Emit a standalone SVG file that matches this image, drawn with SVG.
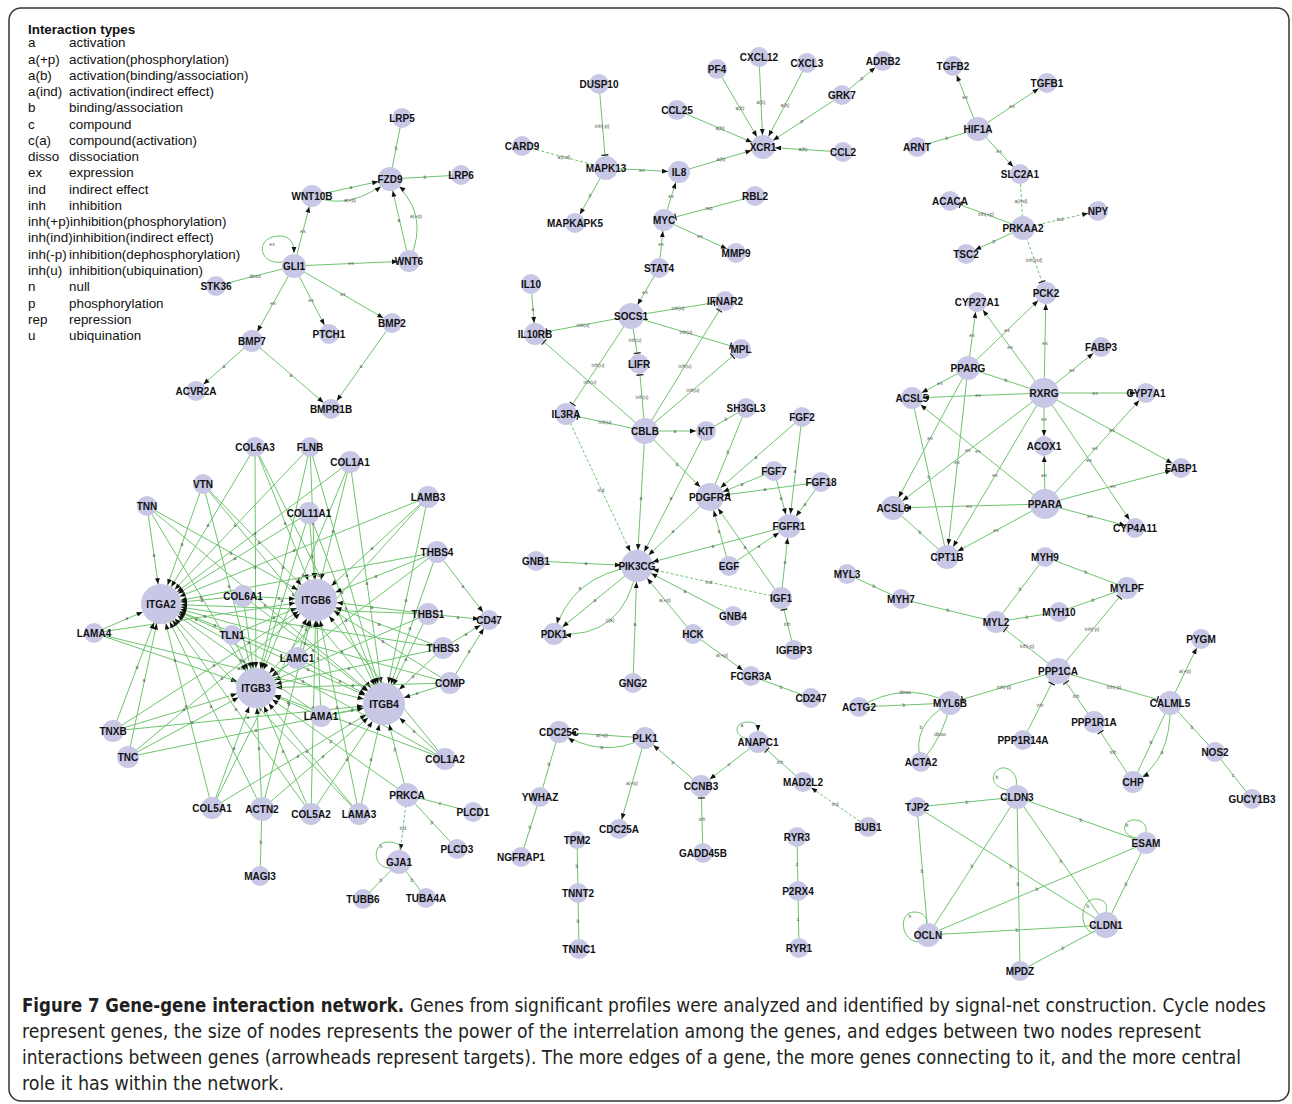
<svg xmlns="http://www.w3.org/2000/svg" width="1292" height="1104" viewBox="0 0 1292 1104">
<style>
.frame{fill:#fff;stroke:#333;stroke-width:1.5}
.lg{font-family:"Liberation Sans",Arial,sans-serif;font-size:13.4px;fill:#111}
.lgt{font-family:"Liberation Sans",Arial,sans-serif;font-size:13.4px;font-weight:bold;fill:#111}
#connectors line,#connectors path{stroke:#6fc46f;stroke-width:1;fill:none}
#connectors .d{stroke-dasharray:3 2}
.el{font-family:"Liberation Sans",Arial,sans-serif;font-size:5px;fill:#555;text-anchor:middle}
.n circle{fill:#c8c8e6}
.n text{font-family:"Liberation Sans",Arial,sans-serif;font-size:10px;font-weight:bold;fill:#111;text-anchor:middle}
.ah path{fill:#111;stroke:none}
.bh path{stroke:#222;stroke-width:1.3;fill:none}
.cap{font-family:"Liberation Sans Narrow","DejaVu Sans Condensed","Liberation Sans",sans-serif;font-size:19px;fill:#231f20}
.capb{font-family:"Liberation Sans Narrow","DejaVu Sans Condensed","Liberation Sans",sans-serif;font-size:19px;font-weight:bold;fill:#231f20}
</style>
<defs>
<marker id="t0" class="ah" markerUnits="userSpaceOnUse" orient="auto" refX="0" refY="0" markerWidth="8" markerHeight="8" style="overflow:visible"><path d="M0,0L-6,-2.4L-6,2.4Z"/></marker>
<marker id="t10" class="ah" markerUnits="userSpaceOnUse" orient="auto" refX="10" refY="0" markerWidth="8" markerHeight="8" style="overflow:visible"><path d="M0,0L-6,-2.4L-6,2.4Z"/></marker>
<marker id="t11" class="ah" markerUnits="userSpaceOnUse" orient="auto" refX="11" refY="0" markerWidth="8" markerHeight="8" style="overflow:visible"><path d="M0,0L-6,-2.4L-6,2.4Z"/></marker>
<marker id="t12" class="ah" markerUnits="userSpaceOnUse" orient="auto" refX="12" refY="0" markerWidth="8" markerHeight="8" style="overflow:visible"><path d="M0,0L-6,-2.4L-6,2.4Z"/></marker>
<marker id="t13" class="ah" markerUnits="userSpaceOnUse" orient="auto" refX="13" refY="0" markerWidth="8" markerHeight="8" style="overflow:visible"><path d="M0,0L-6,-2.4L-6,2.4Z"/></marker>
<marker id="t14" class="ah" markerUnits="userSpaceOnUse" orient="auto" refX="14" refY="0" markerWidth="8" markerHeight="8" style="overflow:visible"><path d="M0,0L-6,-2.4L-6,2.4Z"/></marker>
<marker id="t16" class="ah" markerUnits="userSpaceOnUse" orient="auto" refX="16" refY="0" markerWidth="8" markerHeight="8" style="overflow:visible"><path d="M0,0L-6,-2.4L-6,2.4Z"/></marker>
<marker id="t20" class="ah" markerUnits="userSpaceOnUse" orient="auto" refX="20" refY="0" markerWidth="8" markerHeight="8" style="overflow:visible"><path d="M0,0L-6,-2.4L-6,2.4Z"/></marker>
<marker id="t21" class="ah" markerUnits="userSpaceOnUse" orient="auto" refX="21" refY="0" markerWidth="8" markerHeight="8" style="overflow:visible"><path d="M0,0L-6,-2.4L-6,2.4Z"/></marker>
<marker id="b10" class="bh" markerUnits="userSpaceOnUse" orient="auto" refX="11" refY="0" markerWidth="8" markerHeight="8" style="overflow:visible"><path d="M0,-3.5V3.5"/></marker>
<marker id="b11" class="bh" markerUnits="userSpaceOnUse" orient="auto" refX="12" refY="0" markerWidth="8" markerHeight="8" style="overflow:visible"><path d="M0,-3.5V3.5"/></marker>
<marker id="b12" class="bh" markerUnits="userSpaceOnUse" orient="auto" refX="13" refY="0" markerWidth="8" markerHeight="8" style="overflow:visible"><path d="M0,-3.5V3.5"/></marker>
<marker id="b13" class="bh" markerUnits="userSpaceOnUse" orient="auto" refX="14" refY="0" markerWidth="8" markerHeight="8" style="overflow:visible"><path d="M0,-3.5V3.5"/></marker>
</defs>
<rect class="frame" x="9" y="8" width="1280" height="1093" rx="12"/>
<g id="legend">
<text class="lgt" x="28" y="34">Interaction types</text>
<text class="lg" x="28" y="47.3">a</text><text class="lg" x="69" y="47.3">activation</text>
<text class="lg" x="28" y="63.6">a(+p)</text><text class="lg" x="69" y="63.6">activation(phosphorylation)</text>
<text class="lg" x="28" y="79.8">a(b)</text><text class="lg" x="69" y="79.8">activation(binding/association)</text>
<text class="lg" x="28" y="96.1">a(ind)</text><text class="lg" x="69" y="96.1">activation(indirect effect)</text>
<text class="lg" x="28" y="112.3">b</text><text class="lg" x="69" y="112.3">binding/association</text>
<text class="lg" x="28" y="128.6">c</text><text class="lg" x="69" y="128.6">compound</text>
<text class="lg" x="28" y="144.9">c(a)</text><text class="lg" x="69" y="144.9">compound(activation)</text>
<text class="lg" x="28" y="161.1">disso</text><text class="lg" x="69" y="161.1">dissociation</text>
<text class="lg" x="28" y="177.4">ex</text><text class="lg" x="69" y="177.4">expression</text>
<text class="lg" x="28" y="193.6">ind</text><text class="lg" x="69" y="193.6">indirect effect</text>
<text class="lg" x="28" y="209.9">inh</text><text class="lg" x="69" y="209.9">inhibition</text>
<text class="lg" x="28" y="226.2">inh(+p)inhibition(phosphorylation)</text>
<text class="lg" x="28" y="242.4">inh(ind)inhibition(indirect effect)</text>
<text class="lg" x="28" y="258.7">inh(-p)</text><text class="lg" x="69" y="258.7">inhibition(dephosphorylation)</text>
<text class="lg" x="28" y="274.9">inh(u)</text><text class="lg" x="69" y="274.9">inhibition(ubiquination)</text>
<text class="lg" x="28" y="291.2">n</text><text class="lg" x="69" y="291.2">null</text>
<text class="lg" x="28" y="307.5">p</text><text class="lg" x="69" y="307.5">phosphorylation</text>
<text class="lg" x="28" y="323.7">rep</text><text class="lg" x="69" y="323.7">repression</text>
<text class="lg" x="28" y="340">u</text><text class="lg" x="69" y="340">ubiquination</text>
</g>
<g id="connectors">
<g id="edges">
<line x1="402" y1="118" x2="390" y2="179"/>
<line x1="390" y1="179" x2="461" y2="175"/>
<line x1="312" y1="196" x2="390" y2="179" marker-end="url(#t12)"/>
<path d="M312,196 Q350,212 390,179" marker-end="url(#t12)"/>
<line x1="409" y1="261" x2="390" y2="179" marker-end="url(#t12)"/>
<path d="M409,261 Q432,212 390,179" marker-end="url(#t12)"/>
<line x1="294" y1="266" x2="312" y2="196" marker-end="url(#t11)"/>
<path d="M283,262 C258,266 254,236 280,236 C291,236 294,244 294,253" marker-end="url(#t0)"/>
<line x1="294" y1="266" x2="409" y2="261" marker-end="url(#t11)"/>
<line x1="216" y1="286" x2="294" y2="266"/>
<line x1="294" y1="266" x2="252" y2="341" marker-end="url(#t11)"/>
<line x1="294" y1="266" x2="329" y2="334" marker-end="url(#t10)"/>
<line x1="294" y1="266" x2="392" y2="323" marker-end="url(#t10)"/>
<line x1="252" y1="341" x2="196" y2="391" marker-end="url(#t10)"/>
<line x1="252" y1="341" x2="331" y2="409" marker-end="url(#t10)"/>
<line x1="392" y1="323" x2="331" y2="409" marker-end="url(#t10)"/>

<line x1="599" y1="84" x2="606" y2="168" marker-end="url(#b12)"/>
<line class="d" x1="522" y1="146" x2="606" y2="168"/>
<line x1="606" y1="168" x2="679" y2="172" marker-end="url(#t11)"/>
<line x1="606" y1="168" x2="575" y2="223" marker-end="url(#t10)"/>
<line x1="679" y1="172" x2="763" y2="147" marker-end="url(#t12)"/>
<line x1="677" y1="110" x2="763" y2="147" marker-end="url(#t12)"/>
<line x1="717" y1="69" x2="763" y2="147" marker-end="url(#t12)"/>
<line x1="759" y1="57" x2="763" y2="147" marker-end="url(#t12)"/>
<line x1="807" y1="63" x2="763" y2="147" marker-end="url(#t12)"/>
<line x1="842" y1="95" x2="763" y2="147" marker-end="url(#t12)"/>
<line x1="842" y1="95" x2="883" y2="61" marker-end="url(#t10)"/>
<line x1="843" y1="152" x2="763" y2="147" marker-end="url(#t12)"/>
<line x1="664" y1="220" x2="679" y2="172" marker-end="url(#t11)"/>
<line x1="755" y1="196" x2="664" y2="220" marker-end="url(#b11)"/>
<line x1="664" y1="220" x2="736" y2="253" marker-end="url(#t10)"/>
<line x1="659" y1="268" x2="664" y2="220" marker-end="url(#t11)"/>
<line x1="659" y1="268" x2="631" y2="316" marker-end="url(#t13)"/>

<line x1="978" y1="129" x2="953" y2="66" marker-end="url(#t10)"/>
<line x1="978" y1="129" x2="1047" y2="83" marker-end="url(#t10)"/>
<line x1="917" y1="147" x2="978" y2="129"/>
<line x1="978" y1="129" x2="1020" y2="174" marker-end="url(#t10)"/>
<line class="d" x1="1020" y1="174" x2="1023" y2="228"/>
<line x1="1023" y1="228" x2="950" y2="201" marker-end="url(#b10)"/>
<line class="d" x1="1023" y1="228" x2="1098" y2="211" marker-end="url(#t10)"/>
<line x1="1023" y1="228" x2="966" y2="254" marker-end="url(#t10)"/>
<line class="d" x1="1023" y1="228" x2="1046" y2="293" marker-end="url(#b11)"/>

<line x1="531" y1="284" x2="535" y2="334" marker-end="url(#t11)"/>
<line x1="631" y1="316" x2="535" y2="334" marker-end="url(#b11)"/>
<line x1="631" y1="316" x2="725" y2="301" marker-end="url(#b10)"/>
<line x1="631" y1="316" x2="741" y2="349" marker-end="url(#b10)"/>
<line x1="631" y1="316" x2="639" y2="364" marker-end="url(#b10)"/>
<line x1="631" y1="316" x2="566" y2="414" marker-end="url(#b11)"/>
<line x1="645" y1="431" x2="535" y2="334" marker-end="url(#b11)"/>
<line x1="645" y1="431" x2="639" y2="364" marker-end="url(#b10)"/>
<line x1="645" y1="431" x2="725" y2="301" marker-end="url(#b10)"/>
<line x1="645" y1="431" x2="741" y2="349" marker-end="url(#b10)"/>
<line x1="645" y1="431" x2="566" y2="414" marker-end="url(#b11)"/>
<line x1="645" y1="431" x2="706" y2="431" marker-end="url(#t10)"/>
<line x1="645" y1="431" x2="637" y2="566" marker-end="url(#t16)"/>
<line x1="645" y1="431" x2="710" y2="497" marker-end="url(#t14)"/>
<line x1="706" y1="431" x2="746" y2="408"/>
<line x1="706" y1="431" x2="637" y2="566" marker-end="url(#t16)"/>
<line x1="746" y1="408" x2="710" y2="497"/>
<line x1="802" y1="417" x2="710" y2="497" marker-end="url(#t14)"/>
<line x1="802" y1="417" x2="789" y2="526" marker-end="url(#t12)"/>
<line x1="774" y1="471" x2="710" y2="497" marker-end="url(#t14)"/>
<line x1="774" y1="471" x2="789" y2="526" marker-end="url(#t12)"/>
<line x1="821" y1="482" x2="710" y2="497" marker-end="url(#t14)"/>
<line x1="821" y1="482" x2="789" y2="526" marker-end="url(#t12)"/>
<line x1="710" y1="497" x2="637" y2="566" marker-end="url(#t16)"/>
<line x1="789" y1="526" x2="637" y2="566" marker-end="url(#t16)"/>
<line x1="729" y1="566" x2="710" y2="497" marker-end="url(#t14)"/>
<line x1="729" y1="566" x2="789" y2="526" marker-end="url(#t12)"/>
<line x1="781" y1="598" x2="710" y2="497" marker-end="url(#t14)"/>
<line x1="781" y1="598" x2="789" y2="526" marker-end="url(#t12)"/>
<line class="d" x1="781" y1="598" x2="637" y2="566" marker-end="url(#t16)"/>
<line x1="794" y1="650" x2="781" y2="598" marker-end="url(#b11)"/>
<line class="d" x1="566" y1="414" x2="637" y2="566" marker-end="url(#t16)"/>
<line x1="536" y1="561" x2="637" y2="566" marker-end="url(#t16)"/>
<line x1="733" y1="616" x2="637" y2="566" marker-end="url(#t16)"/>
<line x1="693" y1="634" x2="637" y2="566" marker-end="url(#t16)"/>
<line x1="693" y1="634" x2="751" y2="676" marker-end="url(#t10)"/>
<line x1="751" y1="676" x2="811" y2="698"/>
<line x1="633" y1="683" x2="637" y2="566" marker-end="url(#t16)"/>
<path d="M637,566 Q570,575 554,634" marker-end="url(#t11)"/>
<line x1="637" y1="566" x2="554" y2="634" marker-end="url(#t11)"/>
<path d="M637,566 Q625,640 554,634" marker-end="url(#t11)"/>

<line x1="968" y1="368" x2="977" y2="302" marker-end="url(#t10)"/>
<line x1="968" y1="368" x2="1046" y2="293" marker-end="url(#t11)"/>
<line x1="1044" y1="393" x2="977" y2="302" marker-end="url(#t10)"/>
<line x1="1044" y1="393" x2="1046" y2="293" marker-end="url(#t11)"/>
<line x1="1044" y1="393" x2="1101" y2="347" marker-end="url(#t10)"/>
<line x1="968" y1="368" x2="1044" y2="393"/>
<line x1="968" y1="368" x2="912" y2="398" marker-end="url(#t11)"/>
<line x1="1044" y1="393" x2="912" y2="398" marker-end="url(#t11)"/>
<line x1="1044" y1="393" x2="1146" y2="393" marker-end="url(#t10)"/>
<line x1="1044" y1="393" x2="1044" y2="446" marker-end="url(#t10)"/>
<line x1="1044" y1="393" x2="1181" y2="468" marker-end="url(#t10)"/>
<line x1="1044" y1="393" x2="1135" y2="528" marker-end="url(#t10)"/>
<line x1="1044" y1="393" x2="893" y2="508" marker-end="url(#t12)"/>
<line x1="1044" y1="393" x2="947" y2="557" marker-end="url(#t12)"/>
<line x1="968" y1="368" x2="893" y2="508" marker-end="url(#t12)"/>
<line x1="968" y1="368" x2="947" y2="557" marker-end="url(#t12)"/>
<line x1="912" y1="398" x2="947" y2="557"/>
<line x1="1045" y1="504" x2="912" y2="398" marker-end="url(#t11)"/>
<line x1="1045" y1="504" x2="1044" y2="446" marker-end="url(#t10)"/>
<line x1="1045" y1="504" x2="1146" y2="393" marker-end="url(#t10)"/>
<line x1="1045" y1="504" x2="1181" y2="468" marker-end="url(#t10)"/>
<line x1="1045" y1="504" x2="893" y2="508" marker-end="url(#t12)"/>
<line x1="1045" y1="504" x2="1135" y2="528" marker-end="url(#t10)"/>
<line x1="1045" y1="504" x2="947" y2="557" marker-end="url(#t12)"/>
<line x1="893" y1="508" x2="947" y2="557"/>

<line x1="847" y1="574" x2="901" y2="599"/>
<line x1="901" y1="599" x2="996" y2="622"/>
<line x1="1045" y1="557" x2="996" y2="622"/>
<line x1="1045" y1="557" x2="1127" y2="588"/>
<line x1="996" y1="622" x2="1059" y2="612"/>
<line x1="1059" y1="612" x2="1127" y2="588"/>
<line x1="1058" y1="671" x2="996" y2="622" marker-end="url(#b11)"/>
<line x1="1058" y1="671" x2="1127" y2="588" marker-end="url(#b11)"/>
<line x1="1058" y1="671" x2="950" y2="703" marker-end="url(#b12)"/>
<line x1="1058" y1="671" x2="1170" y2="703" marker-end="url(#b12)"/>
<line x1="1023" y1="740" x2="1058" y2="671" marker-end="url(#b13)"/>
<line x1="1094" y1="722" x2="1058" y2="671" marker-end="url(#b13)"/>
<line x1="1133" y1="782" x2="1094" y2="722" marker-end="url(#b11)"/>
<line x1="1170" y1="703" x2="1201" y2="639" marker-end="url(#t10)"/>
<line x1="1170" y1="703" x2="1133" y2="782"/>
<path d="M1170,703 Q1172,762 1133,782" marker-end="url(#t11)"/>
<line x1="1170" y1="703" x2="1215" y2="752"/>
<line x1="1215" y1="752" x2="1252" y2="799"/>
<line x1="950" y1="703" x2="859" y2="707"/>
<path d="M950,703 Q905,680 859,707"/>
<path d="M950,703 Q910,725 921,762"/>
<path d="M950,703 Q945,735 921,762"/>

<line x1="917" y1="807" x2="1017" y2="797"/>
<path d="M1008,790 C985,786 993,766 1005,768 C1014,770 1018,778 1016,786"/>
<line x1="1017" y1="797" x2="1146" y2="843"/>
<path d="M1137,838 C1120,836 1122,820 1134,820 C1144,820 1147,826 1146,832"/>
<line x1="917" y1="807" x2="928" y2="935"/>
<line x1="917" y1="807" x2="1106" y2="925"/>
<line x1="1017" y1="797" x2="928" y2="935"/>
<line x1="1017" y1="797" x2="1020" y2="971"/>
<line x1="1017" y1="797" x2="1106" y2="925"/>
<line x1="1146" y1="843" x2="928" y2="935"/>
<line x1="1146" y1="843" x2="1106" y2="925"/>
<line x1="928" y1="935" x2="1106" y2="925"/>
<path d="M920,942 C900,942 898,912 914,912 C924,912 927,918 927,923"/>
<path d="M1094,933 C1078,930 1080,899 1095,899 C1106,899 1108,906 1106,912"/>
<line x1="1106" y1="925" x2="1020" y2="971"/>

<line x1="645" y1="738" x2="559" y2="732" marker-end="url(#t11)"/>
<path d="M645,738 Q602,760 559,732" marker-end="url(#t11)"/>
<line x1="559" y1="732" x2="540" y2="797"/>
<line x1="540" y1="797" x2="521" y2="857"/>
<line x1="645" y1="738" x2="619" y2="829" marker-end="url(#t10)"/>
<line x1="701" y1="786" x2="645" y2="738" marker-end="url(#t11)"/>
<line x1="758" y1="742" x2="701" y2="786" marker-end="url(#t11)"/>
<path d="M750,740 C732,736 734,722 748,722 C756,722 758,726 758,731" marker-end="url(#t0)"/>
<line x1="803" y1="782" x2="758" y2="742" marker-end="url(#b11)"/>
<line class="d" x1="868" y1="827" x2="803" y2="782" marker-end="url(#t10)"/>
<line x1="703" y1="853" x2="701" y2="786" marker-end="url(#b11)"/>
<line x1="577" y1="840" x2="578" y2="893"/>
<line x1="578" y1="893" x2="579" y2="949"/>
<line x1="797" y1="837" x2="798" y2="891"/>
<line x1="798" y1="891" x2="799" y2="948"/>

<line x1="255" y1="447" x2="161" y2="604" marker-end="url(#t20)"/>
<line x1="255" y1="447" x2="316" y2="600" marker-end="url(#t21)"/>
<line x1="255" y1="447" x2="256" y2="688" marker-end="url(#t20)"/>
<line x1="255" y1="447" x2="384" y2="704" marker-end="url(#t21)"/>
<line x1="310" y1="447" x2="161" y2="604" marker-end="url(#t20)"/>
<line x1="310" y1="447" x2="316" y2="600" marker-end="url(#t21)"/>
<line x1="310" y1="447" x2="256" y2="688" marker-end="url(#t20)"/>
<line x1="310" y1="447" x2="384" y2="704" marker-end="url(#t21)"/>
<line x1="350" y1="462" x2="161" y2="604" marker-end="url(#t20)"/>
<line x1="350" y1="462" x2="316" y2="600" marker-end="url(#t21)"/>
<line x1="350" y1="462" x2="256" y2="688" marker-end="url(#t20)"/>
<line x1="350" y1="462" x2="384" y2="704" marker-end="url(#t21)"/>
<line x1="203" y1="484" x2="161" y2="604" marker-end="url(#t20)"/>
<line x1="203" y1="484" x2="316" y2="600" marker-end="url(#t21)"/>
<line x1="203" y1="484" x2="256" y2="688" marker-end="url(#t20)"/>
<line x1="203" y1="484" x2="384" y2="704" marker-end="url(#t21)"/>
<line x1="147" y1="506" x2="161" y2="604" marker-end="url(#t20)"/>
<line x1="147" y1="506" x2="316" y2="600" marker-end="url(#t21)"/>
<line x1="147" y1="506" x2="256" y2="688" marker-end="url(#t20)"/>
<line x1="147" y1="506" x2="384" y2="704" marker-end="url(#t21)"/>
<line x1="428" y1="497" x2="161" y2="604" marker-end="url(#t20)"/>
<line x1="428" y1="497" x2="316" y2="600" marker-end="url(#t21)"/>
<line x1="428" y1="497" x2="256" y2="688" marker-end="url(#t20)"/>
<line x1="428" y1="497" x2="384" y2="704" marker-end="url(#t21)"/>
<line x1="309" y1="513" x2="161" y2="604" marker-end="url(#t20)"/>
<line x1="309" y1="513" x2="316" y2="600" marker-end="url(#t21)"/>
<line x1="309" y1="513" x2="256" y2="688" marker-end="url(#t20)"/>
<line x1="309" y1="513" x2="384" y2="704" marker-end="url(#t21)"/>
<line x1="437" y1="552" x2="161" y2="604" marker-end="url(#t20)"/>
<line x1="437" y1="552" x2="316" y2="600" marker-end="url(#t21)"/>
<line x1="437" y1="552" x2="256" y2="688" marker-end="url(#t20)"/>
<line x1="437" y1="552" x2="384" y2="704" marker-end="url(#t21)"/>
<line x1="243" y1="596" x2="161" y2="604" marker-end="url(#t20)"/>
<line x1="243" y1="596" x2="316" y2="600" marker-end="url(#t21)"/>
<line x1="243" y1="596" x2="256" y2="688" marker-end="url(#t20)"/>
<line x1="243" y1="596" x2="384" y2="704" marker-end="url(#t21)"/>
<line x1="428" y1="614" x2="161" y2="604" marker-end="url(#t20)"/>
<line x1="428" y1="614" x2="316" y2="600" marker-end="url(#t21)"/>
<line x1="428" y1="614" x2="256" y2="688" marker-end="url(#t20)"/>
<line x1="428" y1="614" x2="384" y2="704" marker-end="url(#t21)"/>
<line x1="94" y1="633" x2="161" y2="604" marker-end="url(#t20)"/>
<line x1="94" y1="633" x2="316" y2="600" marker-end="url(#t21)"/>
<line x1="94" y1="633" x2="256" y2="688" marker-end="url(#t20)"/>
<line x1="94" y1="633" x2="384" y2="704" marker-end="url(#t21)"/>
<line x1="232" y1="635" x2="161" y2="604" marker-end="url(#t20)"/>
<line x1="232" y1="635" x2="316" y2="600" marker-end="url(#t21)"/>
<line x1="232" y1="635" x2="256" y2="688" marker-end="url(#t20)"/>
<line x1="232" y1="635" x2="384" y2="704" marker-end="url(#t21)"/>
<line x1="443" y1="648" x2="161" y2="604" marker-end="url(#t20)"/>
<line x1="443" y1="648" x2="316" y2="600" marker-end="url(#t21)"/>
<line x1="443" y1="648" x2="256" y2="688" marker-end="url(#t20)"/>
<line x1="443" y1="648" x2="384" y2="704" marker-end="url(#t21)"/>
<line x1="297" y1="658" x2="161" y2="604" marker-end="url(#t20)"/>
<line x1="297" y1="658" x2="316" y2="600" marker-end="url(#t21)"/>
<line x1="297" y1="658" x2="256" y2="688" marker-end="url(#t20)"/>
<line x1="297" y1="658" x2="384" y2="704" marker-end="url(#t21)"/>
<line x1="450" y1="683" x2="161" y2="604" marker-end="url(#t20)"/>
<line x1="450" y1="683" x2="316" y2="600" marker-end="url(#t21)"/>
<line x1="450" y1="683" x2="256" y2="688" marker-end="url(#t20)"/>
<line x1="450" y1="683" x2="384" y2="704" marker-end="url(#t21)"/>
<line x1="321" y1="716" x2="161" y2="604" marker-end="url(#t20)"/>
<line x1="321" y1="716" x2="316" y2="600" marker-end="url(#t21)"/>
<line x1="321" y1="716" x2="256" y2="688" marker-end="url(#t20)"/>
<line x1="321" y1="716" x2="384" y2="704" marker-end="url(#t21)"/>
<line x1="113" y1="731" x2="161" y2="604" marker-end="url(#t20)"/>
<line x1="113" y1="731" x2="316" y2="600" marker-end="url(#t21)"/>
<line x1="113" y1="731" x2="256" y2="688" marker-end="url(#t20)"/>
<line x1="113" y1="731" x2="384" y2="704" marker-end="url(#t21)"/>
<line x1="128" y1="757" x2="161" y2="604" marker-end="url(#t20)"/>
<line x1="128" y1="757" x2="316" y2="600" marker-end="url(#t21)"/>
<line x1="128" y1="757" x2="256" y2="688" marker-end="url(#t20)"/>
<line x1="128" y1="757" x2="384" y2="704" marker-end="url(#t21)"/>
<line x1="445" y1="759" x2="161" y2="604" marker-end="url(#t20)"/>
<line x1="445" y1="759" x2="316" y2="600" marker-end="url(#t21)"/>
<line x1="445" y1="759" x2="256" y2="688" marker-end="url(#t20)"/>
<line x1="445" y1="759" x2="384" y2="704" marker-end="url(#t21)"/>
<line x1="212" y1="808" x2="161" y2="604" marker-end="url(#t20)"/>
<line x1="212" y1="808" x2="316" y2="600" marker-end="url(#t21)"/>
<line x1="212" y1="808" x2="256" y2="688" marker-end="url(#t20)"/>
<line x1="212" y1="808" x2="384" y2="704" marker-end="url(#t21)"/>
<line x1="262" y1="809" x2="161" y2="604" marker-end="url(#t20)"/>
<line x1="262" y1="809" x2="316" y2="600" marker-end="url(#t21)"/>
<line x1="262" y1="809" x2="256" y2="688" marker-end="url(#t20)"/>
<line x1="262" y1="809" x2="384" y2="704" marker-end="url(#t21)"/>
<line x1="311" y1="814" x2="161" y2="604" marker-end="url(#t20)"/>
<line x1="311" y1="814" x2="316" y2="600" marker-end="url(#t21)"/>
<line x1="311" y1="814" x2="256" y2="688" marker-end="url(#t20)"/>
<line x1="311" y1="814" x2="384" y2="704" marker-end="url(#t21)"/>
<line x1="359" y1="814" x2="161" y2="604" marker-end="url(#t20)"/>
<line x1="359" y1="814" x2="316" y2="600" marker-end="url(#t21)"/>
<line x1="359" y1="814" x2="256" y2="688" marker-end="url(#t20)"/>
<line x1="359" y1="814" x2="384" y2="704" marker-end="url(#t21)"/>
<line x1="437" y1="552" x2="489" y2="620" marker-end="url(#t10)"/>
<line x1="428" y1="614" x2="489" y2="620" marker-end="url(#t10)"/>
<line x1="443" y1="648" x2="489" y2="620" marker-end="url(#t10)"/>
<line x1="450" y1="683" x2="489" y2="620" marker-end="url(#t10)"/>
<line x1="407" y1="795" x2="384" y2="704" marker-end="url(#t21)"/>
<line x1="407" y1="795" x2="256" y2="688" marker-end="url(#t20)"/>
<line x1="407" y1="795" x2="473" y2="812"/>
<line x1="407" y1="795" x2="457" y2="849"/>
<line class="d" x1="407" y1="795" x2="399" y2="862" marker-end="url(#t12)"/>
<path d="M390,868 C372,868 372,842 388,842 C398,842 401,846 400,850"/>
<line x1="399" y1="862" x2="363" y2="899"/>
<line x1="399" y1="862" x2="426" y2="898"/>
<line x1="262" y1="809" x2="260" y2="876"/>
</g>
<g id="edge-labels" class="el">
<text x="396" y="150">b</text><text x="425" y="179">b</text><text x="351" y="189">a</text><text x="350" y="202">a(+p)</text>
<text x="399" y="222">a</text><text x="416" y="218">a(+p)</text><text x="303" y="233">ex</text><text x="272" y="246">ex</text>
<text x="351" y="265">ex</text><text x="255" y="278">disso</text><text x="273" y="305">ex</text><text x="311" y="302">ex</text>
<text x="343" y="296">ex</text><text x="224" y="368">a</text><text x="291" y="377">a</text><text x="361" y="368">a</text>
<text x="602" y="128">inh(-p)</text><text x="564" y="159">a(ind)</text><text x="642" y="172">ex</text><text x="590" y="197">p</text>
<text x="721" y="161">a(b)</text><text x="720" y="130">a(b)</text><text x="740" y="110">a(b)</text><text x="761" y="104">a(b)</text>
<text x="785" y="107">a(b)</text><text x="802" y="123">p</text><text x="862" y="80">p</text><text x="803" y="151">a(b)</text>
<text x="671" y="198">ex</text><text x="709" y="210">rep</text><text x="700" y="238">ex</text><text x="661" y="246">ex</text>
<text x="645" y="294">ex</text>
<text x="965" y="99">ex</text><text x="1012" y="108">ex</text><text x="947" y="140">b</text><text x="999" y="153">ex</text>
<text x="1021" y="203">a(ind)</text><text x="986" y="216">inh(+p)</text><text x="1060" y="221">ind</text><text x="994" y="243">p</text>
<text x="1034" y="262">inh(ind)</text>
<text x="533" y="311">a</text><text x="583" y="327">inh(u)</text><text x="678" y="310">inh(u)</text><text x="686" y="334">inh(u)</text>
<text x="635" y="342">inh(u)</text><text x="598" y="367">inh(u)</text><text x="590" y="384">inh(u)</text><text x="642" y="399">inh(u)</text>
<text x="685" y="368">inh(u)</text><text x="693" y="392">inh(u)</text><text x="605" y="424">inh(u)</text><text x="675" y="433">a</text>
<text x="641" y="500">a</text><text x="677" y="466">a</text><text x="726" y="421">b</text><text x="671" y="500">a</text>
<text x="728" y="454">b</text><text x="756" y="459">a</text><text x="795" y="473">a</text><text x="742" y="486">a</text>
<text x="781" y="500">a</text><text x="765" y="491">a</text><text x="805" y="506">a</text><text x="673" y="533">a</text>
<text x="713" y="548">a</text><text x="719" y="533">a</text><text x="759" y="548">a</text><text x="745" y="549">a</text>
<text x="785" y="564">a</text><text x="709" y="584">ind</text><text x="787" y="626">inh</text><text x="601" y="492">ind</text>
<text x="586" y="565">a</text><text x="685" y="593">a</text><text x="665" y="602">a(+p)</text><text x="722" y="657">a(+p)</text>
<text x="781" y="689">b</text><text x="635" y="626">a</text><text x="580" y="590">a</text><text x="595" y="602">a</text>
<text x="610" y="622">c(a)</text>
<text x="972" y="337">ex</text><text x="1007" y="332">ex</text><text x="1010" y="349">ex</text><text x="1045" y="345">ex</text>
<text x="1072" y="372">ex</text><text x="1006" y="382">b</text><text x="940" y="385">ex</text><text x="978" y="397">ex</text>
<text x="1095" y="395">ex</text><text x="1044" y="421">ex</text><text x="1112" y="432">ex</text><text x="1089" y="462">ex</text>
<text x="968" y="452">ex</text><text x="995" y="477">ex</text><text x="930" y="440">ex</text><text x="957" y="464">ex</text>
<text x="929" y="479">b</text><text x="978" y="453">ex</text><text x="1044" y="477">ex</text><text x="1095" y="450">ex</text>
<text x="1113" y="488">ex</text><text x="969" y="508">ex</text><text x="1090" y="518">ex</text><text x="996" y="532">ex</text>
<text x="920" y="534">b</text>
<text x="874" y="588">b</text><text x="948" y="612">b</text><text x="1020" y="591">b</text><text x="1086" y="574">b</text>
<text x="1027" y="619">b</text><text x="1093" y="602">b</text><text x="1027" y="648">inh(-p)</text><text x="1092" y="631">inh(-p)</text>
<text x="1004" y="689">inh(-p)</text><text x="1114" y="689">inh(-p)</text><text x="1040" y="707">inh</text><text x="1076" y="698">inh</text>
<text x="1113" y="754">inh</text><text x="1185" y="673">a(+p)</text><text x="1151" y="744">b</text><text x="1162" y="754">a</text>
<text x="1192" y="729">b</text><text x="1233" y="777">c</text><text x="904" y="707">b</text><text x="905" y="694">disso</text>
<text x="921" y="729">b</text><text x="940" y="736">disso</text>
<text x="967" y="804">b</text><text x="997" y="779">b</text><text x="1081" y="822">b</text><text x="1127" y="827">b</text>
<text x="922" y="873">b</text><text x="1011" y="868">b</text><text x="972" y="868">b</text><text x="1018" y="886">b</text>
<text x="1061" y="863">b</text><text x="1037" y="891">b</text><text x="1126" y="886">b</text><text x="1017" y="932">b</text>
<text x="910" y="918">b</text><text x="1088" y="908">b</text><text x="1063" y="950">b</text>
<text x="602" y="737">a(+p)</text><text x="602" y="749">p</text><text x="549" y="766">b</text><text x="530" y="829">b</text>
<text x="632" y="785">a(+p)</text><text x="673" y="764">p</text><text x="729" y="766">u</text><text x="742" y="727">a</text>
<text x="780" y="764">inh</text><text x="835" y="806">ind</text><text x="702" y="821">inh</text><text x="577" y="868">b</text>
<text x="578" y="923">b</text><text x="797" y="866">c</text><text x="798" y="921">c</text>
<text x="208" y="527">a</text><text x="285" y="525">a</text><text x="255" y="569">a</text><text x="319" y="577">a</text>
<text x="235" y="527">a</text><text x="313" y="525">a</text><text x="283" y="569">a</text><text x="347" y="577">a</text>
<text x="255" y="535">a</text><text x="333" y="533">a</text><text x="303" y="577">a</text><text x="367" y="585">a</text>
<text x="182" y="546">a</text><text x="259" y="544">a</text><text x="229" y="588">a</text><text x="293" y="596">a</text>
<text x="154" y="557">a</text><text x="231" y="555">a</text><text x="201" y="599">a</text><text x="265" y="607">a</text>
<text x="294" y="552">a</text><text x="372" y="550">a</text><text x="342" y="594">a</text><text x="406" y="602">a</text>
<text x="235" y="560">a</text><text x="312" y="558">a</text><text x="282" y="602">a</text><text x="346" y="610">a</text>
<text x="299" y="580">a</text><text x="376" y="578">a</text><text x="346" y="622">a</text><text x="410" y="630">a</text>
<text x="202" y="602">a</text><text x="279" y="600">a</text><text x="249" y="644">a</text><text x="313" y="652">a</text>
<text x="294" y="611">a</text><text x="372" y="609">a</text><text x="342" y="653">a</text><text x="406" y="661">a</text>
<text x="127" y="620">a</text><text x="205" y="618">a</text><text x="175" y="662">a</text><text x="239" y="670">a</text>
<text x="196" y="621">a</text><text x="274" y="619">a</text><text x="244" y="663">a</text><text x="308" y="671">a</text>
<text x="302" y="628">a</text><text x="379" y="626">a</text><text x="349" y="670">a</text><text x="413" y="678">a</text>
<text x="215" y="627">a</text><text x="306" y="631">a</text><text x="276" y="675">a</text><text x="340" y="683">a</text>
<text x="305" y="645">a</text><text x="383" y="643">a</text><text x="353" y="687">a</text><text x="417" y="695">a</text>
<text x="241" y="662">a</text><text x="318" y="660">a</text><text x="288" y="704">a</text><text x="352" y="712">a</text>
<text x="137" y="669">a</text><text x="214" y="667">a</text><text x="184" y="711">a</text><text x="248" y="719">a</text>
<text x="144" y="682">a</text><text x="222" y="680">a</text><text x="192" y="724">a</text><text x="256" y="732">a</text>
<text x="303" y="683">a</text><text x="380" y="681">a</text><text x="350" y="725">a</text><text x="414" y="733">a</text>
<text x="186" y="708">a</text><text x="264" y="706">a</text><text x="234" y="750">a</text><text x="298" y="758">a</text>
<text x="211" y="708">a</text><text x="289" y="706">a</text><text x="259" y="750">a</text><text x="323" y="758">a</text>
<text x="236" y="711">a</text><text x="313" y="709">a</text><text x="283" y="753">a</text><text x="347" y="761">a</text>
<text x="260" y="711">a</text><text x="337" y="709">a</text><text x="307" y="753">a</text><text x="371" y="761">a</text>
<text x="463" y="588">a</text><text x="458" y="619">a</text><text x="466" y="636">a</text><text x="469" y="653">a</text>
<text x="395" y="751">p</text><text x="331" y="743">p</text><text x="440" y="805">c</text><text x="432" y="824">p</text>
<text x="403" y="830">ind</text><text x="381" y="848">b</text><text x="381" y="882">b</text><text x="412" y="882">b</text>
<text x="261" y="844">b</text>
</g>
</g>
<g id="nodes">
<g id="LRP5" class="n"><circle cx="402" cy="118" r="10"/><text x="402" y="121.6">LRP5</text></g>
<g id="FZD9" class="n"><circle cx="390" cy="179" r="12"/><text x="390" y="182.6">FZD9</text></g>
<g id="LRP6" class="n"><circle cx="461" cy="175" r="10"/><text x="461" y="178.6">LRP6</text></g>
<g id="WNT10B" class="n"><circle cx="312" cy="196" r="11"/><text x="312" y="199.6">WNT10B</text></g>
<g id="GLI1" class="n"><circle cx="294" cy="266" r="12"/><text x="294" y="269.6">GLI1</text></g>
<g id="WNT6" class="n"><circle cx="409" cy="261" r="11"/><text x="409" y="264.6">WNT6</text></g>
<g id="STK36" class="n"><circle cx="216" cy="286" r="10"/><text x="216" y="289.6">STK36</text></g>
<g id="BMP7" class="n"><circle cx="252" cy="341" r="11"/><text x="252" y="344.6">BMP7</text></g>
<g id="PTCH1" class="n"><circle cx="329" cy="334" r="10"/><text x="329" y="337.6">PTCH1</text></g>
<g id="BMP2" class="n"><circle cx="392" cy="323" r="10"/><text x="392" y="326.6">BMP2</text></g>
<g id="ACVR2A" class="n"><circle cx="196" cy="391" r="10"/><text x="196" y="394.6">ACVR2A</text></g>
<g id="BMPR1B" class="n"><circle cx="331" cy="409" r="10"/><text x="331" y="412.6">BMPR1B</text></g>
<g id="DUSP10" class="n"><circle cx="599" cy="84" r="10"/><text x="599" y="87.6">DUSP10</text></g>
<g id="CARD9" class="n"><circle cx="522" cy="146" r="10"/><text x="522" y="149.6">CARD9</text></g>
<g id="MAPK13" class="n"><circle cx="606" cy="168" r="12"/><text x="606" y="171.6">MAPK13</text></g>
<g id="MAPKAPK5" class="n"><circle cx="575" cy="223" r="10"/><text x="575" y="226.6">MAPKAPK5</text></g>
<g id="IL8" class="n"><circle cx="679" cy="172" r="11"/><text x="679" y="175.6">IL8</text></g>
<g id="CCL25" class="n"><circle cx="677" cy="110" r="10"/><text x="677" y="113.6">CCL25</text></g>
<g id="PF4" class="n"><circle cx="717" cy="69" r="10"/><text x="717" y="72.6">PF4</text></g>
<g id="CXCL12" class="n"><circle cx="759" cy="57" r="10"/><text x="759" y="60.6">CXCL12</text></g>
<g id="CXCL3" class="n"><circle cx="807" cy="63" r="10"/><text x="807" y="66.6">CXCL3</text></g>
<g id="ADRB2" class="n"><circle cx="883" cy="61" r="10"/><text x="883" y="64.6">ADRB2</text></g>
<g id="GRK7" class="n"><circle cx="842" cy="95" r="10"/><text x="842" y="98.6">GRK7</text></g>
<g id="XCR1" class="n"><circle cx="763" cy="147" r="12"/><text x="763" y="150.6">XCR1</text></g>
<g id="CCL2" class="n"><circle cx="843" cy="152" r="10"/><text x="843" y="155.6">CCL2</text></g>
<g id="MYC" class="n"><circle cx="664" cy="220" r="11"/><text x="664" y="223.6">MYC</text></g>
<g id="RBL2" class="n"><circle cx="755" cy="196" r="10"/><text x="755" y="199.6">RBL2</text></g>
<g id="MMP9" class="n"><circle cx="736" cy="253" r="10"/><text x="736" y="256.6">MMP9</text></g>
<g id="STAT4" class="n"><circle cx="659" cy="268" r="10"/><text x="659" y="271.6">STAT4</text></g>
<g id="TGFB2" class="n"><circle cx="953" cy="66" r="10"/><text x="953" y="69.6">TGFB2</text></g>
<g id="TGFB1" class="n"><circle cx="1047" cy="83" r="10"/><text x="1047" y="86.6">TGFB1</text></g>
<g id="HIF1A" class="n"><circle cx="978" cy="129" r="12"/><text x="978" y="132.6">HIF1A</text></g>
<g id="ARNT" class="n"><circle cx="917" cy="147" r="10"/><text x="917" y="150.6">ARNT</text></g>
<g id="SLC2A1" class="n"><circle cx="1020" cy="174" r="10"/><text x="1020" y="177.6">SLC2A1</text></g>
<g id="ACACA" class="n"><circle cx="950" cy="201" r="10"/><text x="950" y="204.6">ACACA</text></g>
<g id="PRKAA2" class="n"><circle cx="1023" cy="228" r="12"/><text x="1023" y="231.6">PRKAA2</text></g>
<g id="NPY" class="n"><circle cx="1098" cy="211" r="10"/><text x="1098" y="214.6">NPY</text></g>
<g id="TSC2" class="n"><circle cx="966" cy="254" r="10"/><text x="966" y="257.6">TSC2</text></g>
<g id="PCK2" class="n"><circle cx="1046" cy="293" r="11"/><text x="1046" y="296.6">PCK2</text></g>
<g id="IL10" class="n"><circle cx="531" cy="284" r="10"/><text x="531" y="287.6">IL10</text></g>
<g id="SOCS1" class="n"><circle cx="631" cy="316" r="13"/><text x="631" y="319.6">SOCS1</text></g>
<g id="IFNAR2" class="n"><circle cx="725" cy="301" r="10"/><text x="725" y="304.6">IFNAR2</text></g>
<g id="IL10RB" class="n"><circle cx="535" cy="334" r="11"/><text x="535" y="337.6">IL10RB</text></g>
<g id="MPL" class="n"><circle cx="741" cy="349" r="10"/><text x="741" y="352.6">MPL</text></g>
<g id="LIFR" class="n"><circle cx="639" cy="364" r="10"/><text x="639" y="367.6">LIFR</text></g>
<g id="IL3RA" class="n"><circle cx="566" cy="414" r="11"/><text x="566" y="417.6">IL3RA</text></g>
<g id="CBLB" class="n"><circle cx="645" cy="431" r="13"/><text x="645" y="434.6">CBLB</text></g>
<g id="KIT" class="n"><circle cx="706" cy="431" r="10"/><text x="706" y="434.6">KIT</text></g>
<g id="SH3GL3" class="n"><circle cx="746" cy="408" r="10"/><text x="746" y="411.6">SH3GL3</text></g>
<g id="FGF2" class="n"><circle cx="802" cy="417" r="10"/><text x="802" y="420.6">FGF2</text></g>
<g id="FGF7" class="n"><circle cx="774" cy="471" r="10"/><text x="774" y="474.6">FGF7</text></g>
<g id="FGF18" class="n"><circle cx="821" cy="482" r="10"/><text x="821" y="485.6">FGF18</text></g>
<g id="PDGFRA" class="n"><circle cx="710" cy="497" r="14"/><text x="710" y="500.6">PDGFRA</text></g>
<g id="FGFR1" class="n"><circle cx="789" cy="526" r="12"/><text x="789" y="529.6">FGFR1</text></g>
<g id="PIK3CG" class="n"><circle cx="637" cy="566" r="16"/><text x="637" y="569.6">PIK3CG</text></g>
<g id="GNB1" class="n"><circle cx="536" cy="561" r="10"/><text x="536" y="564.6">GNB1</text></g>
<g id="EGF" class="n"><circle cx="729" cy="566" r="10"/><text x="729" y="569.6">EGF</text></g>
<g id="IGF1" class="n"><circle cx="781" cy="598" r="11"/><text x="781" y="601.6">IGF1</text></g>
<g id="GNB4" class="n"><circle cx="733" cy="616" r="10"/><text x="733" y="619.6">GNB4</text></g>
<g id="PDK1" class="n"><circle cx="554" cy="634" r="11"/><text x="554" y="637.6">PDK1</text></g>
<g id="HCK" class="n"><circle cx="693" cy="634" r="10"/><text x="693" y="637.6">HCK</text></g>
<g id="IGFBP3" class="n"><circle cx="794" cy="650" r="10"/><text x="794" y="653.6">IGFBP3</text></g>
<g id="FCGR3A" class="n"><circle cx="751" cy="676" r="10"/><text x="751" y="679.6">FCGR3A</text></g>
<g id="GNG2" class="n"><circle cx="633" cy="683" r="10"/><text x="633" y="686.6">GNG2</text></g>
<g id="CD247" class="n"><circle cx="811" cy="698" r="10"/><text x="811" y="701.6">CD247</text></g>
<g id="CYP27A1" class="n"><circle cx="977" cy="302" r="10"/><text x="977" y="305.6">CYP27A1</text></g>
<g id="FABP3" class="n"><circle cx="1101" cy="347" r="10"/><text x="1101" y="350.6">FABP3</text></g>
<g id="PPARG" class="n"><circle cx="968" cy="368" r="12"/><text x="968" y="371.6">PPARG</text></g>
<g id="ACSL5" class="n"><circle cx="912" cy="398" r="11"/><text x="912" y="401.6">ACSL5</text></g>
<g id="RXRG" class="n"><circle cx="1044" cy="393" r="15"/><text x="1044" y="396.6">RXRG</text></g>
<g id="CYP7A1" class="n"><circle cx="1146" cy="393" r="10"/><text x="1146" y="396.6">CYP7A1</text></g>
<g id="ACOX1" class="n"><circle cx="1044" cy="446" r="10"/><text x="1044" y="449.6">ACOX1</text></g>
<g id="FABP1" class="n"><circle cx="1181" cy="468" r="10"/><text x="1181" y="471.6">FABP1</text></g>
<g id="ACSL6" class="n"><circle cx="893" cy="508" r="12"/><text x="893" y="511.6">ACSL6</text></g>
<g id="PPARA" class="n"><circle cx="1045" cy="504" r="15"/><text x="1045" y="507.6">PPARA</text></g>
<g id="CYP4A11" class="n"><circle cx="1135" cy="528" r="10"/><text x="1135" y="531.6">CYP4A11</text></g>
<g id="CPT1B" class="n"><circle cx="947" cy="557" r="12"/><text x="947" y="560.6">CPT1B</text></g>
<g id="MYH9" class="n"><circle cx="1045" cy="557" r="10"/><text x="1045" y="560.6">MYH9</text></g>
<g id="MYL3" class="n"><circle cx="847" cy="574" r="10"/><text x="847" y="577.6">MYL3</text></g>
<g id="MYLPF" class="n"><circle cx="1127" cy="588" r="11"/><text x="1127" y="591.6">MYLPF</text></g>
<g id="MYH7" class="n"><circle cx="901" cy="599" r="10"/><text x="901" y="602.6">MYH7</text></g>
<g id="MYH10" class="n"><circle cx="1059" cy="612" r="10"/><text x="1059" y="615.6">MYH10</text></g>
<g id="MYL2" class="n"><circle cx="996" cy="622" r="11"/><text x="996" y="625.6">MYL2</text></g>
<g id="PYGM" class="n"><circle cx="1201" cy="639" r="10"/><text x="1201" y="642.6">PYGM</text></g>
<g id="PPP1CA" class="n"><circle cx="1058" cy="671" r="13"/><text x="1058" y="674.6">PPP1CA</text></g>
<g id="ACTG2" class="n"><circle cx="859" cy="707" r="10"/><text x="859" y="710.6">ACTG2</text></g>
<g id="MYL6B" class="n"><circle cx="950" cy="703" r="12"/><text x="950" y="706.6">MYL6B</text></g>
<g id="CALML5" class="n"><circle cx="1170" cy="703" r="12"/><text x="1170" y="706.6">CALML5</text></g>
<g id="PPP1R14A" class="n"><circle cx="1023" cy="740" r="10"/><text x="1023" y="743.6">PPP1R14A</text></g>
<g id="PPP1R1A" class="n"><circle cx="1094" cy="722" r="11"/><text x="1094" y="725.6">PPP1R1A</text></g>
<g id="NOS2" class="n"><circle cx="1215" cy="752" r="10"/><text x="1215" y="755.6">NOS2</text></g>
<g id="ACTA2" class="n"><circle cx="921" cy="762" r="10"/><text x="921" y="765.6">ACTA2</text></g>
<g id="CHP" class="n"><circle cx="1133" cy="782" r="11"/><text x="1133" y="785.6">CHP</text></g>
<g id="GUCY1B3" class="n"><circle cx="1252" cy="799" r="10"/><text x="1252" y="802.6">GUCY1B3</text></g>
<g id="CLDN3" class="n"><circle cx="1017" cy="797" r="12"/><text x="1017" y="800.6">CLDN3</text></g>
<g id="TJP2" class="n"><circle cx="917" cy="807" r="10"/><text x="917" y="810.6">TJP2</text></g>
<g id="ESAM" class="n"><circle cx="1146" cy="843" r="11"/><text x="1146" y="846.6">ESAM</text></g>
<g id="OCLN" class="n"><circle cx="928" cy="935" r="12"/><text x="928" y="938.6">OCLN</text></g>
<g id="CLDN1" class="n"><circle cx="1106" cy="925" r="13"/><text x="1106" y="928.6">CLDN1</text></g>
<g id="MPDZ" class="n"><circle cx="1020" cy="971" r="10"/><text x="1020" y="974.6">MPDZ</text></g>
<g id="CDC25C" class="n"><circle cx="559" cy="732" r="11"/><text x="559" y="735.6">CDC25C</text></g>
<g id="PLK1" class="n"><circle cx="645" cy="738" r="11"/><text x="645" y="741.6">PLK1</text></g>
<g id="ANAPC1" class="n"><circle cx="758" cy="742" r="11"/><text x="758" y="745.6">ANAPC1</text></g>
<g id="CCNB3" class="n"><circle cx="701" cy="786" r="11"/><text x="701" y="789.6">CCNB3</text></g>
<g id="MAD2L2" class="n"><circle cx="803" cy="782" r="10"/><text x="803" y="785.6">MAD2L2</text></g>
<g id="YWHAZ" class="n"><circle cx="540" cy="797" r="10"/><text x="540" y="800.6">YWHAZ</text></g>
<g id="BUB1" class="n"><circle cx="868" cy="827" r="10"/><text x="868" y="830.6">BUB1</text></g>
<g id="CDC25A" class="n"><circle cx="619" cy="829" r="10"/><text x="619" y="832.6">CDC25A</text></g>
<g id="TPM2" class="n"><circle cx="577" cy="840" r="9"/><text x="577" y="843.6">TPM2</text></g>
<g id="RYR3" class="n"><circle cx="797" cy="837" r="10"/><text x="797" y="840.6">RYR3</text></g>
<g id="GADD45B" class="n"><circle cx="703" cy="853" r="10"/><text x="703" y="856.6">GADD45B</text></g>
<g id="NGFRAP1" class="n"><circle cx="521" cy="857" r="10"/><text x="521" y="860.6">NGFRAP1</text></g>
<g id="TNNT2" class="n"><circle cx="578" cy="893" r="10"/><text x="578" y="896.6">TNNT2</text></g>
<g id="P2RX4" class="n"><circle cx="798" cy="891" r="10"/><text x="798" y="894.6">P2RX4</text></g>
<g id="TNNC1" class="n"><circle cx="579" cy="949" r="10"/><text x="579" y="952.6">TNNC1</text></g>
<g id="RYR1" class="n"><circle cx="799" cy="948" r="10"/><text x="799" y="951.6">RYR1</text></g>
<g id="COL6A3" class="n"><circle cx="255" cy="447" r="10"/><text x="255" y="450.6">COL6A3</text></g>
<g id="FLNB" class="n"><circle cx="310" cy="447" r="10"/><text x="310" y="450.6">FLNB</text></g>
<g id="COL1A1" class="n"><circle cx="350" cy="462" r="11"/><text x="350" y="465.6">COL1A1</text></g>
<g id="VTN" class="n"><circle cx="203" cy="484" r="10"/><text x="203" y="487.6">VTN</text></g>
<g id="TNN" class="n"><circle cx="147" cy="506" r="10"/><text x="147" y="509.6">TNN</text></g>
<g id="LAMB3" class="n"><circle cx="428" cy="497" r="11"/><text x="428" y="500.6">LAMB3</text></g>
<g id="COL11A1" class="n"><circle cx="309" cy="513" r="11"/><text x="309" y="516.6">COL11A1</text></g>
<g id="THBS4" class="n"><circle cx="437" cy="552" r="11"/><text x="437" y="555.6">THBS4</text></g>
<g id="ITGA2" class="n"><circle cx="161" cy="604" r="20"/><text x="161" y="607.6">ITGA2</text></g>
<g id="COL6A1" class="n"><circle cx="243" cy="596" r="11"/><text x="243" y="599.6">COL6A1</text></g>
<g id="ITGB6" class="n"><circle cx="316" cy="600" r="21"/><text x="316" y="603.6">ITGB6</text></g>
<g id="THBS1" class="n"><circle cx="428" cy="614" r="11"/><text x="428" y="617.6">THBS1</text></g>
<g id="CD47" class="n"><circle cx="489" cy="620" r="10"/><text x="489" y="623.6">CD47</text></g>
<g id="LAMA4" class="n"><circle cx="94" cy="633" r="10"/><text x="94" y="636.6">LAMA4</text></g>
<g id="TLN1" class="n"><circle cx="232" cy="635" r="10"/><text x="232" y="638.6">TLN1</text></g>
<g id="THBS3" class="n"><circle cx="443" cy="648" r="11"/><text x="443" y="651.6">THBS3</text></g>
<g id="LAMC1" class="n"><circle cx="297" cy="658" r="11"/><text x="297" y="661.6">LAMC1</text></g>
<g id="ITGB3" class="n"><circle cx="256" cy="688" r="20"/><text x="256" y="691.6">ITGB3</text></g>
<g id="COMP" class="n"><circle cx="450" cy="683" r="11"/><text x="450" y="686.6">COMP</text></g>
<g id="ITGB4" class="n"><circle cx="384" cy="704" r="21"/><text x="384" y="707.6">ITGB4</text></g>
<g id="LAMA1" class="n"><circle cx="321" cy="716" r="11"/><text x="321" y="719.6">LAMA1</text></g>
<g id="TNXB" class="n"><circle cx="113" cy="731" r="11"/><text x="113" y="734.6">TNXB</text></g>
<g id="TNC" class="n"><circle cx="128" cy="757" r="11"/><text x="128" y="760.6">TNC</text></g>
<g id="COL1A2" class="n"><circle cx="445" cy="759" r="11"/><text x="445" y="762.6">COL1A2</text></g>
<g id="COL5A1" class="n"><circle cx="212" cy="808" r="11"/><text x="212" y="811.6">COL5A1</text></g>
<g id="ACTN2" class="n"><circle cx="262" cy="809" r="12"/><text x="262" y="812.6">ACTN2</text></g>
<g id="COL5A2" class="n"><circle cx="311" cy="814" r="11"/><text x="311" y="817.6">COL5A2</text></g>
<g id="LAMA3" class="n"><circle cx="359" cy="814" r="11"/><text x="359" y="817.6">LAMA3</text></g>
<g id="PRKCA" class="n"><circle cx="407" cy="795" r="12"/><text x="407" y="798.6">PRKCA</text></g>
<g id="PLCD1" class="n"><circle cx="473" cy="812" r="10"/><text x="473" y="815.6">PLCD1</text></g>
<g id="PLCD3" class="n"><circle cx="457" cy="849" r="10"/><text x="457" y="852.6">PLCD3</text></g>
<g id="MAGI3" class="n"><circle cx="260" cy="876" r="10"/><text x="260" y="879.6">MAGI3</text></g>
<g id="GJA1" class="n"><circle cx="399" cy="862" r="12"/><text x="399" y="865.6">GJA1</text></g>
<g id="TUBB6" class="n"><circle cx="363" cy="899" r="10"/><text x="363" y="902.6">TUBB6</text></g>
<g id="TUBA4A" class="n"><circle cx="426" cy="898" r="10"/><text x="426" y="901.6">TUBA4A</text></g>
</g>
<g id="caption">
<text class="capb" x="22" y="1012" textLength="382" lengthAdjust="spacingAndGlyphs">Figure 7 Gene-gene interaction network.</text>
<text class="cap" x="410" y="1012" textLength="856" lengthAdjust="spacingAndGlyphs">Genes from significant profiles were analyzed and identified by signal-net construction. Cycle nodes</text>
<text class="cap" x="22" y="1038" textLength="1179" lengthAdjust="spacingAndGlyphs">represent genes, the size of nodes represents the power of the interrelation among the genes, and edges between two nodes represent</text>
<text class="cap" x="22" y="1064" textLength="1219" lengthAdjust="spacingAndGlyphs">interactions between genes (arrowheads represent targets). The more edges of a gene, the more genes connecting to it, and the more central</text>
<text class="cap" x="22" y="1090" textLength="262" lengthAdjust="spacingAndGlyphs">role it has within the network.</text>
</g>
</svg>
